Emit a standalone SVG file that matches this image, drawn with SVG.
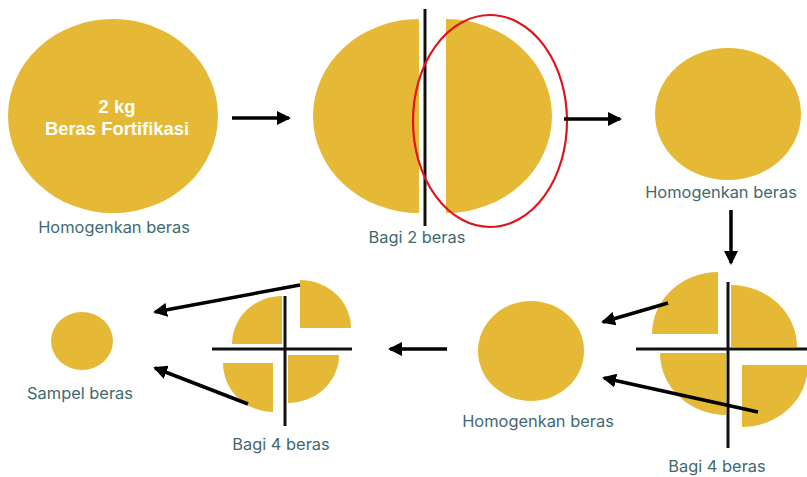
<svg xmlns="http://www.w3.org/2000/svg" width="807" height="477" viewBox="0 0 807 477">
<defs>
<style>
.r{fill:#e5b835}
.cut{stroke:#111;stroke-width:3;fill:none}
.lbl{font-family:Inter,"Noto Sans",sans-serif;font-size:16.4px;fill:#41696f;text-anchor:middle}
.ttl{font-family:"Liberation Sans",Arial,sans-serif;font-weight:bold;font-size:18.4px;fill:#fff;text-anchor:middle}
.con{stroke:#000;stroke-width:3.5;fill:none;marker-end:url(#ah)}
</style>
<marker id="ah" markerUnits="userSpaceOnUse" markerWidth="14" markerHeight="14" viewBox="0 0 14 14" refX="12" refY="7" orient="auto">
<path d="M0,0 L14,7 L0,14 Z" fill="#000"/>
</marker>
</defs>
<rect width="807" height="477" fill="#fff"/>

<g id="n1">
<ellipse class="r" cx="113" cy="116" rx="105" ry="97"/>
<text class="ttl" x="117" y="113">2 kg</text>
<text class="ttl" x="117" y="135">Beras Fortifikasi</text>
<text class="lbl" x="114" y="233">Homogenkan beras</text>
</g>

<g id="n2">
<path class="r" d="M419,19 A106 97 0 0 0 419,213 Z"/>
<path class="r" d="M446,19 A106 97 0 0 1 446,213 Z"/>
<line class="cut" x1="425" y1="9" x2="425" y2="226"/>
<ellipse cx="490" cy="121" rx="77" ry="106" fill="none" stroke="#e0151b" stroke-width="2.2"/>
<text class="lbl" x="417" y="243">Bagi 2 beras</text>
</g>

<g id="n3">
<ellipse class="r" cx="728" cy="114" rx="73" ry="66"/>
<text class="lbl" x="721" y="198">Homogenkan beras</text>
</g>

<g id="n4">
<path class="r" d="M718,334 L652,334 A66 62 0 0 1 718,272 Z"/>
<path class="r" d="M731,347 L731,285 A66 62 0 0 1 797,347 Z"/>
<path class="r" d="M726,353 L726,415 A66 62 0 0 1 660,353 Z"/>
<path class="r" d="M742,365 L808,365 A66 62 0 0 1 742,427 Z"/>
<line class="cut" x1="728" y1="282" x2="728" y2="448"/>
<line class="cut" x1="636" y1="349" x2="807" y2="349"/>
<text class="lbl" x="717" y="472">Bagi 4 beras</text>
</g>

<g id="n5">
<ellipse class="r" cx="531" cy="351" rx="53" ry="50"/>
<text class="lbl" x="538" y="427">Homogenkan beras</text>
</g>

<g id="n6">
<path class="r" d="M282,344 L232,344 A50 48 0 0 1 282,296 Z"/>
<path class="r" d="M300,328 L300,280 A51 48 0 0 1 351,328 Z"/>
<path class="r" d="M273,363 L273,412 A50 49 0 0 1 223,363 Z"/>
<path class="r" d="M288,355 L339,355 A51 48 0 0 1 288,403 Z"/>
<line class="cut" x1="285" y1="296" x2="285" y2="426"/>
<line class="cut" x1="212" y1="349" x2="352" y2="349"/>
<text class="lbl" x="281" y="450">Bagi 4 beras</text>
</g>

<g id="n7">
<ellipse class="r" cx="82" cy="341" rx="31" ry="29"/>
<text class="lbl" x="80" y="399">Sampel beras</text>
</g>

<g id="connectors">
<line class="con" x1="232" y1="118" x2="289" y2="118"/>
<line class="con" x1="564" y1="119" x2="620" y2="119"/>
<line class="con" x1="731" y1="210" x2="731" y2="263"/>
<line class="con" x1="668" y1="303" x2="603" y2="322"/>
<line class="con" x1="758" y1="412" x2="604" y2="378"/>
<line class="con" x1="447" y1="349" x2="390" y2="349"/>
<line class="con" x1="300" y1="285" x2="155" y2="312"/>
<line class="con" x1="248" y1="404" x2="155" y2="368"/>
</g>
</svg>
